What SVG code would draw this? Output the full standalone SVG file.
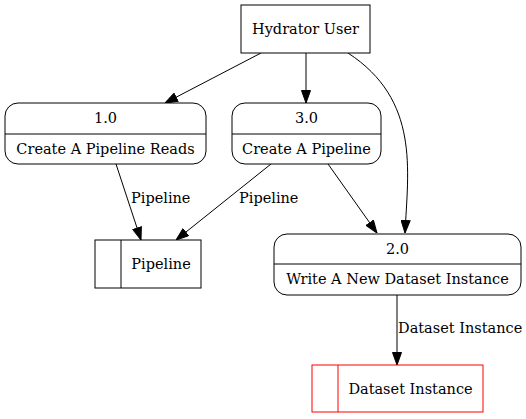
<svg xmlns="http://www.w3.org/2000/svg" width="526" height="419" viewBox="0 0 526 419">
<style>
.n{fill:#fff;stroke:#000;stroke-width:1}
.r{fill:#fff;stroke:#ff0000;stroke-width:1}
.e{fill:none;stroke:#000;stroke-width:1}
</style>
<defs>
<marker id="ah" markerWidth="13" markerHeight="10" refX="13" refY="5" orient="auto" markerUnits="userSpaceOnUse">
<polygon points="0.5,0.5 13,5 0.5,9.5" fill="#000" stroke="#000"/>
</marker>
</defs>
<rect width="526" height="419" fill="#fff"/>
<g font-family="'DejaVu Serif', 'Liberation Serif', serif" font-size="14.5" fill="#000">
<g id="edges">
<path class="e" marker-end="url(#ah)" d="M261,53 L165,103"/>
<path class="e" marker-end="url(#ah)" d="M306,53 L306,103"/>
<path class="e" marker-end="url(#ah)" d="M348,53 C420,100 408,170 405,233"/>
<path class="e" marker-end="url(#ah)" d="M116,164 L141,240"/>
<text x="131" y="203">Pipeline</text>
<path class="e" marker-end="url(#ah)" d="M271,164 L176,240"/>
<text x="239" y="203">Pipeline</text>
<path class="e" marker-end="url(#ah)" d="M328,164 L377,233"/>
<path class="e" marker-end="url(#ah)" d="M397,295 L397,365"/>
<text x="398" y="333">Dataset Instance</text>
</g>
<g id="hydrator_user">
<rect class="n" x="241" y="5" width="129" height="48"/>
<text text-anchor="middle" x="305.5" y="33.5">Hydrator User</text>
</g>
<g id="p1">
<rect class="n" x="5" y="103" width="201" height="61" rx="13"/>
<line x1="5" y1="134" x2="206" y2="134" stroke="#000"/>
<text text-anchor="middle" x="105.5" y="123">1.0</text>
<text text-anchor="middle" x="105.5" y="153.5">Create A Pipeline Reads</text>
</g>
<g id="p3">
<rect class="n" x="232" y="103" width="149" height="61" rx="13"/>
<line x1="232" y1="134" x2="381" y2="134" stroke="#000"/>
<text text-anchor="middle" x="306.5" y="123">3.0</text>
<text text-anchor="middle" x="306.5" y="153.5">Create A Pipeline</text>
</g>
<g id="p2">
<rect class="n" x="274" y="234" width="247" height="61" rx="13"/>
<line x1="274" y1="264" x2="521" y2="264" stroke="#000"/>
<text text-anchor="middle" x="397.5" y="253.5">2.0</text>
<text text-anchor="middle" x="397.5" y="284">Write A New Dataset Instance</text>
</g>
<g id="store_pipeline">
<rect class="n" x="95" y="240" width="106" height="48"/>
<line x1="121" y1="240" x2="121" y2="288" stroke="#000"/>
<text text-anchor="middle" x="161" y="269">Pipeline</text>
</g>
<g id="store_dataset">
<rect class="r" x="312" y="365" width="171" height="47"/>
<line x1="338" y1="365" x2="338" y2="412" stroke="#ff0000"/>
<text text-anchor="middle" x="410.5" y="393.5">Dataset Instance</text>
</g>
</g>
</svg>
